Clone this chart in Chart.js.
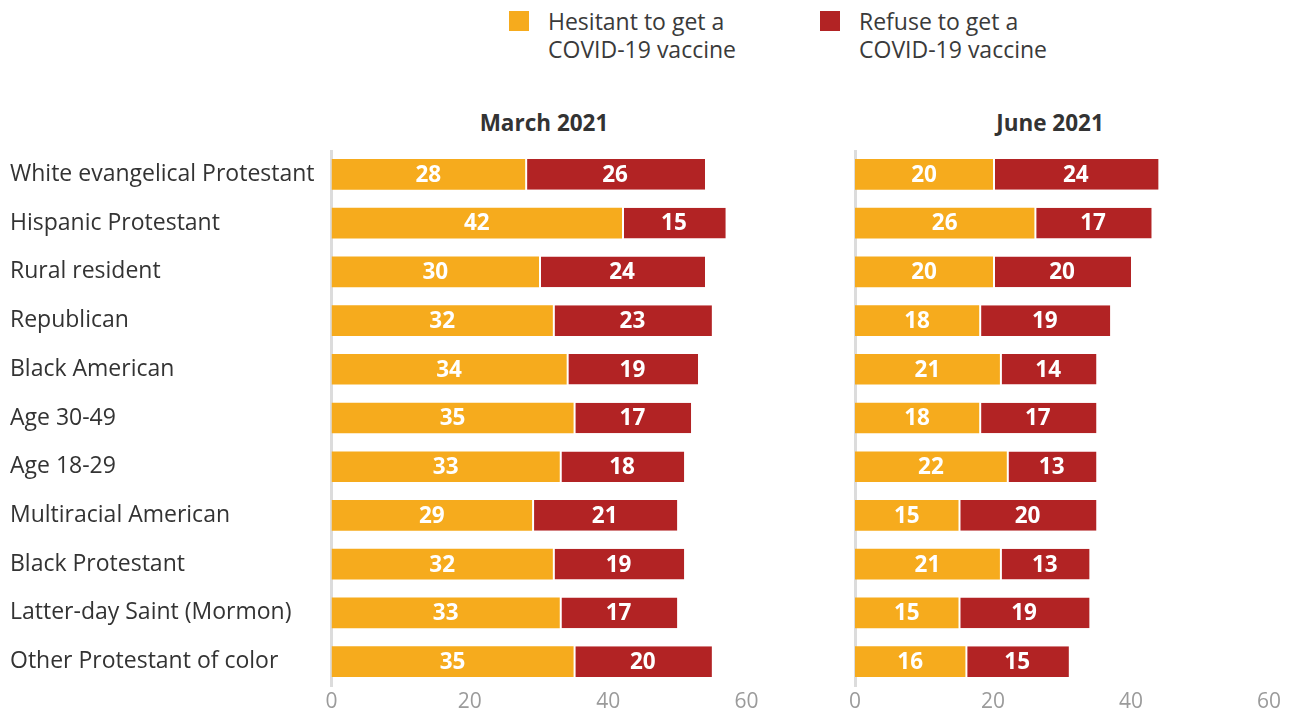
<!DOCTYPE html>
<html>
<head>
<meta charset="utf-8">
<script src="https://cdn.jsdelivr.net/npm/chart.js@4.4.0/dist/chart.umd.min.js"></script>
<style>
    body { margin: 0; background: #fff; font-family: "Open Sans", sans-serif; color: #333; }
    #wrap { position: relative; width: 1294px; height: 710px; overflow: hidden; }
    canvas { position: absolute; }
    .legend-item { position: absolute; top: 7px; font-size: 23px; line-height: 28px; color: #3a3a3a; white-space: nowrap; }
    .legend-item .box { position: absolute; left: -39px; top: 4px; width: 20px; height: 20px; }
    .panel-title { position: absolute; top: 107px; font-size: 22.5px; font-weight: bold; color: #333; text-align: center; width: 300px; }
</style>
</head>
<body>
<div id="wrap">
    <div class="legend-item" style="left:548px"><span class="box" style="background:#F6AB1D"></span>Hesitant to get a<br>COVID-19 vaccine</div>
    <div class="legend-item" style="left:859px"><span class="box" style="background:#B22324"></span>Refuse to get a<br>COVID-19 vaccine</div>
    <div class="panel-title" style="left:394px">March 2021</div>
    <div class="panel-title" style="left:900px">June 2021</div>
    <canvas id="marchChart" width="790" height="560" style="left:0;top:150px"></canvas>
    <canvas id="juneChart" width="454" height="560" style="left:840px;top:150px"></canvas>
</div>
<script>
// Data
var groups = [
    'White evangelical Protestant',
    'Hispanic Protestant',
    'Rural resident',
    'Republican',
    'Black American',
    'Age 30-49',
    'Age 18-29',
    'Multiracial American',
    'Black Protestant',
    'Latter-day Saint (Mormon)',
    'Other Protestant of color'
];
var marchHesitant = [28, 42, 30, 32, 34, 35, 33, 29, 32, 33, 35];
var marchRefuse   = [26, 15, 24, 23, 19, 17, 18, 21, 19, 17, 20];
var juneHesitant  = [20, 26, 20, 18, 21, 18, 22, 15, 21, 15, 16];
var juneRefuse    = [24, 17, 20, 19, 14, 17, 13, 20, 13, 19, 15];
var xTicks = [0, 20, 40, 60];

var hesitantColor = '#F6AB1D';
var refuseColor = '#B22324';

// Writes the value in the middle of every bar segment
var segmentLabels = {
    id: 'segmentLabels',
    afterDatasetsDraw: function (chart) {
        var ctx = chart.ctx;
        ctx.save();
        ctx.fillStyle = '#fff';
        ctx.font = 'bold 22.5px "Open Sans"';
        ctx.textAlign = 'center';
        ctx.textBaseline = 'middle';
        chart.data.datasets.forEach(function (ds, i) {
            chart.getDatasetMeta(i).data.forEach(function (bar, j) {
                var cx = (bar.x + bar.base) / 2;
                ctx.fillText(ds.data[j], cx, bar.y + 1);
            });
        });
        ctx.restore();
    }
};

function initPanel(canvasId, hesitant, refuse, showLabels, padding) {
    var ctx = document.getElementById(canvasId).getContext('2d');
    return new Chart(ctx, {
        type: 'bar',
        data: {
            labels: groups,
            datasets: [{
                label: 'Hesitant to get a COVID-19 vaccine',
                data: hesitant,
                backgroundColor: hesitantColor,
                borderWidth: 0,
                barPercentage: 0.63,
                categoryPercentage: 1
            }, {
                label: 'Refuse to get a COVID-19 vaccine',
                data: refuse,
                backgroundColor: refuseColor,
                borderColor: '#fff',
                borderWidth: { left: 2, right: 0, top: 0, bottom: 0 },
                borderSkipped: false,
                barPercentage: 0.63,
                categoryPercentage: 1
            }]
        },
        options: {
            indexAxis: 'y',
            responsive: false,
            animation: false,
            layout: { padding: padding },
            scales: {
                x: {
                    stacked: true,
                    min: 0,
                    max: 60,
                    afterBuildTicks: function (scale) {
                        scale.ticks = xTicks.map(function (v) { return { value: v }; });
                    },
                    afterFit: function (scale) { scale.height = 24; },
                    grid: { display: false, drawTicks: false },
                    border: { display: false },
                    ticks: {
                        padding: 3,
                        color: '#9b9b9b',
                        font: { family: 'Open Sans', size: 21 }
                    }
                },
                y: {
                    stacked: true,
                    z: 1,
                    afterFit: function (scale) {
                        scale.width = showLabels ? 321.5 : 0;
                        scale.paddingTop = 0;
                        scale.paddingBottom = 0;
                    },
                    grid: { display: false, drawTicks: false },
                    border: { display: true, color: '#dcdcdc', width: 3 },
                    ticks: {
                        display: showLabels,
                        crossAlign: 'far',
                        padding: 0,
                        color: '#333',
                        font: { family: 'Open Sans', size: 23 }
                    }
                }
            },
            plugins: {
                legend: { display: false },
                tooltip: { enabled: false }
            }
        },
        plugins: [segmentLabels]
    });
}

initPanel('marchChart', marchHesitant, marchRefuse, true, { left: 10, right: 43.5, top: 0, bottom: 0 });
initPanel('juneChart', juneHesitant, juneRefuse, false, { left: 15, right: 25, top: 0, bottom: 0 });
</script>
</body>
</html>
